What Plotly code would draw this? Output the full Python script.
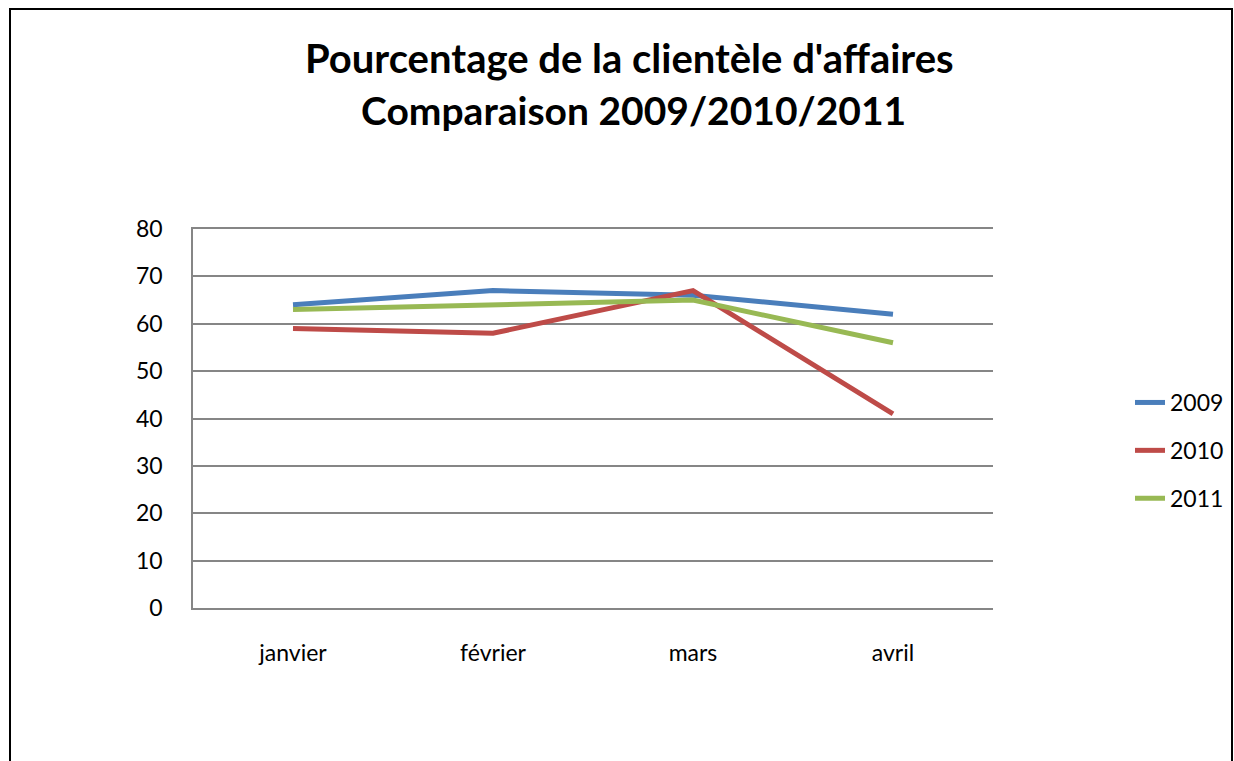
import plotly.graph_objects as go

months = ["janvier", "février", "mars", "avril"]
series_names = ["2009", "2010", "2011"]
v2009 = [64, 67, 66, 62]
v2010 = [59, 58, 67, 41]
v2011 = [63, 64, 65, 56]
colors = ["#4A7EBB", "#BE4B48", "#98B954"]
y_ticks = [0, 10, 20, 30, 40, 50, 60, 70, 80]

W, H = 1234, 761
L, R, T, B = 193, 993, 229, 608
FONT = "Lato, 'Open Sans', sans-serif"

fig = go.Figure()
for name, vals, col in zip(series_names, [v2009, v2010, v2011], colors):
    fig.add_trace(go.Scatter(x=months, y=vals, name=name, mode="lines",
                             line=dict(color=col, width=5), legendgroup=name))

pw, ph = R - L, B - T
def px_x(p): return (p - L) / pw
def px_y(p): return (B - p) / ph

fig.update_layout(
    width=W, height=H,
    margin=dict(l=L, r=W - R, t=T, b=H - B, pad=0, autoexpand=False),
    paper_bgcolor="white", plot_bgcolor="white",
    font=dict(family=FONT, size=23, color="black"),
    showlegend=True,
    legend=dict(x=px_x(1130), y=px_y(381), xanchor="left", yanchor="top",
                font=dict(size=23), tracegroupgap=15, traceorder="grouped",
                bgcolor="rgba(0,0,0,0)", itemwidth=30),
    xaxis=dict(range=[-0.5, 3.5], showgrid=False, showline=True, mirror=True,
               linecolor="#868686", linewidth=1.5,
               ticks="", tickfont=dict(size=23), fixedrange=True, ticklabelstandoff=24),
    yaxis=dict(range=[0, 80], tickvals=y_ticks, showgrid=True, gridcolor="#868686",
               gridwidth=1.5, showline=True, linecolor="#868686", linewidth=1.5,
               ticks="", tickfont=dict(size=23), zeroline=False, ticklabelstandoff=24),
    annotations=[
        dict(text="<b>Pourcentage de la clientèle d'affaires</b>", xref="paper", yref="paper",
             x=px_x(629), y=px_y(58), xanchor="center", yanchor="middle",
             showarrow=False, font=dict(size=40, family=FONT)),
        dict(text="<b>Comparaison 2009/2010/2011</b>", xref="paper", yref="paper",
             x=px_x(633), y=px_y(110), xanchor="center", yanchor="middle",
             showarrow=False, font=dict(size=39, family=FONT)),
    ],
    shapes=[dict(type="rect", xref="paper", yref="paper",
                 x0=px_x(10), x1=px_x(1232), y0=px_y(800), y1=px_y(9),
                 line=dict(color="black", width=2), layer="below")],
)

fig.write_html(
    "out.html", config={"displayModeBar": False},
    post_script=("document.body.style.margin='0px';"
                 "document.body.style.overflow='hidden';"
                 "document.documentElement.style.overflow='hidden';"),
)
